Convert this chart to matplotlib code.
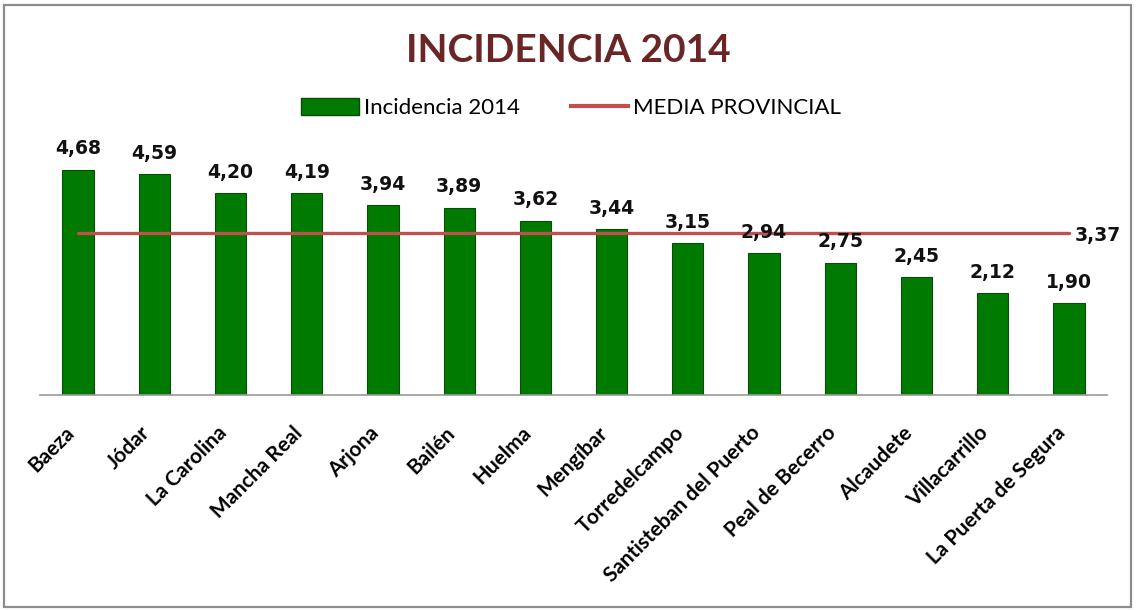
import matplotlib.pyplot as plt
from matplotlib.patches import Rectangle
from matplotlib.lines import Line2D
from matplotlib.patches import Patch

municipios = ["Baeza", "Jódar", "La Carolina", "Mancha Real", "Arjona", "Bailén",
              "Huelma", "Mengíbar", "Torredelcampo", "Santisteban del Puerto",
              "Peal de Becerro", "Alcaudete", "Villacarrillo", "La Puerta de Segura"]
incidencia = [4.68, 4.59, 4.20, 4.19, 3.94, 3.89, 3.62, 3.44, 3.15, 2.94, 2.75, 2.45, 2.12, 1.90]
media_provincial = 3.37

def coma(v):
    return f"{v:.2f}".replace(".", ",")

fig = plt.figure(figsize=(11.36, 6.10), dpi=100)
ax = fig.add_axes([40 / 1136, 215 / 610, 1067 / 1136, 265 / 610])

x = list(range(len(municipios)))
ax.bar(x, incidencia, width=0.41, color="#007A00", edgecolor="#0B4A0B", linewidth=0.8, zorder=2)
ax.plot([x[0], x[-1]], [media_provincial] * 2, color="#C0504D", lw=2.4, zorder=3,
        solid_capstyle="round")

for xi, v in zip(x, incidencia):
    ax.annotate(coma(v), (xi, v), xytext=(0, 8), textcoords="offset points",
                ha="center", va="bottom", fontsize=13.5, fontweight="bold",
                family="DejaVu Sans", color="#111111", zorder=4)
ax.annotate(coma(media_provincial), (x[-1], media_provincial), xytext=(4, -2),
            textcoords="offset points", ha="left", va="center", fontsize=13.5,
            fontweight="bold", family="DejaVu Sans", color="#111111")

ax.set_xlim(-0.5, len(municipios) - 0.5)
ax.set_ylim(0, 5.5)
ax.set_xticks(x)
ax.set_xticklabels(municipios, rotation=45, ha="right", fontsize=15,
                   fontweight="bold", family="Lato")
ax.tick_params(axis="x", length=0, pad=20)
ax.set_yticks([])
for s in ["top", "right", "left"]:
    ax.spines[s].set_visible(False)
ax.spines["bottom"].set_color("#999999")
ax.spines["bottom"].set_linewidth(1.2)

fig.text(0.5, 1 - 50 / 610, "INCIDENCIA 2014", ha="center", va="center",
         fontsize=28, fontweight="bold", family="Lato", color="#6B2527")

handles = [Patch(facecolor="#007A00", edgecolor="#0B4A0B", label="Incidencia 2014"),
           Line2D([], [], color="#C0504D", lw=3, label="MEDIA PROVINCIAL")]
fig.legend(handles=handles, loc="center", bbox_to_anchor=(571 / 1136, 1 - 108 / 610),
           ncol=2, frameon=False, prop={"family": "Lato", "size": 16},
           handlelength=2.6, handleheight=0.8, columnspacing=2.3, handletextpad=0.2)

fig.add_artist(Rectangle((4 / 1136, 3 / 610), 1127 / 1136, 602 / 610,
                         transform=fig.transFigure, fill=False,
                         edgecolor="#8C8C8C", lw=1.6))

fig.savefig("out.png", dpi=100)
